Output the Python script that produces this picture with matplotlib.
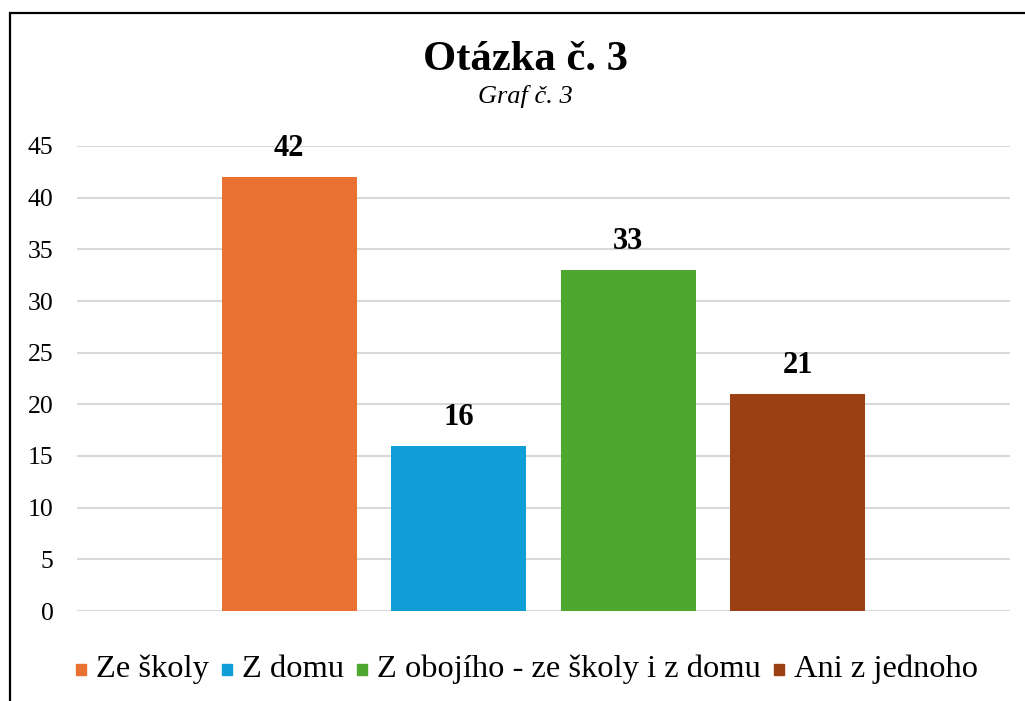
import matplotlib.pyplot as plt
from matplotlib.patches import Rectangle
import numpy as np

plt.rcParams['font.family'] = ['Liberation Serif', 'DejaVu Serif']

series = ["Ze školy", "Z domu", "Z obojího - ze školy i z domu", "Ani z jednoho"]
values = [42, 16, 33, 21]
colors = ["#E97132", "#0F9ED5", "#4EA72E", "#9A4012"]
yticks = [0, 5, 10, 15, 20, 25, 30, 35, 40, 45]

W, H = 1025, 701
fig = plt.figure(figsize=(W / 100, H / 100), dpi=100)

# plot area in pixels: left 77, right 1010, top 146, bottom 611
ax = fig.add_axes([77 / W, 1 - 611 / H, (1010 - 77) / W, (611 - 146) / H])

step = 0.1817
width = 0.1447
offsets = (np.arange(len(series)) - 1.5) * step
for off, v, c in zip(offsets, values, colors):
    ax.bar(off, v, width=width, color=c, zorder=3)
    ax.annotate(str(v), (off, v), xytext=(0, 10), textcoords='offset points',
                ha='center', va='bottom', fontsize=22, fontweight='bold')

ax.set_xlim(-0.5, 0.5)
ax.set_ylim(0, 45)
ax.set_yticks(yticks)
ax.set_xticks([])
ax.tick_params(axis='y', length=0, pad=17, labelsize=18.5)
ax.grid(axis='y', color='#D9D9D9', linewidth=1.5, zorder=0)
for s in ax.spines.values():
    s.set_visible(False)

fig.text(0.5125, 1 - 60 / H, "Otázka č. 3", ha='center', va='center',
         fontsize=30.7, fontweight='bold')
fig.text(0.5125, 1 - 97 / H, "Graf č. 3", ha='center', va='center',
         fontsize=19, style='italic')

# legend laid out by hand so that all labels share one baseline
mk_w, mk_h, pad, gap = 10, 11, 10, 13   # pixels
baseline, mk_bottom = 677, 675          # pixels from top
renderer = fig.canvas.get_renderer()
labels = [fig.text(0, 0, s, fontsize=23.4, ha='left', va='baseline') for s in series]
widths = [t.get_window_extent(renderer).width for t in labels]
total = sum(widths) + len(series) * (mk_w + pad) + (len(series) - 1) * gap
x = 527 - total / 2
for t, w, c in zip(labels, widths, colors):
    fig.patches.append(Rectangle((x / W, 1 - mk_bottom / H), mk_w / W, mk_h / H,
                                 transform=fig.transFigure, color=c))
    t.set_position(((x + mk_w + pad) / W, 1 - baseline / H))
    x += mk_w + pad + w + gap

# outer frame, runs off the right and bottom edges
fig.patches.append(Rectangle((10 / W, -0.05), 1.0, 1 - 13 / H + 0.05,
                             transform=fig.transFigure, fill=False,
                             edgecolor='black', linewidth=1.6))

fig.savefig("out.png", dpi=100)
